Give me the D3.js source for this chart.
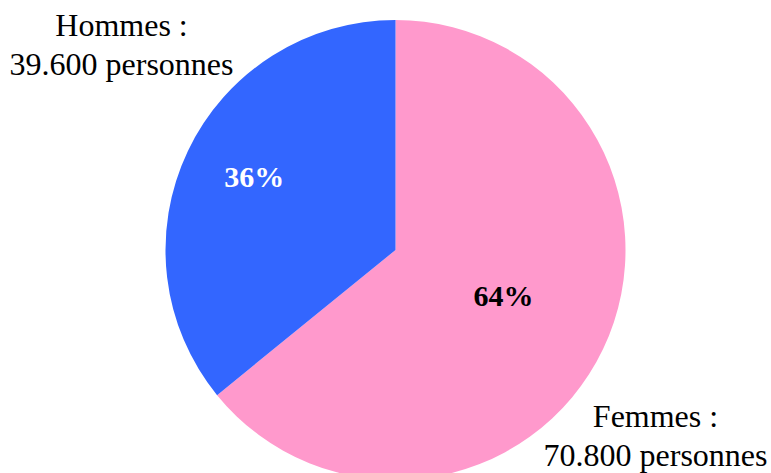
<!DOCTYPE html>
<html><head><meta charset="utf-8">
<script src="https://cdn.jsdelivr.net/npm/d3@7"></script>
<style>html,body{margin:0;padding:0;background:#fff;overflow:hidden}</style>
</head><body>
<svg id="chart" width="771" height="473"></svg>
<script>
const categories = ["Femmes", "Hommes"];
const values = [70800, 39600];
const outerLabels = [["Femmes :", "70.800 personnes"], ["Hommes :", "39.600 personnes"]];
const colors = ["#FF99CC", "#3366FF"];
const pctColors = ["#000000", "#ffffff"];

const svg = d3.select("#chart");
const cx = 395.5, cy = 250, r = 230;
const g = svg.append("g").attr("transform", `translate(${cx},${cy})`);
const pie = d3.pie().sort(null).value(d => d)(values);
const arc = d3.arc().innerRadius(0).outerRadius(r);
g.selectAll("path").data(pie).enter().append("path")
  .attr("d", arc).attr("fill", (d, i) => colors[i]);

const total = d3.sum(values);
const labelFrac = [0.52, 0.68];
g.selectAll("text.pct").data(pie).enter().append("text")
  .attr("class", "pct")
  .attr("transform", (d, i) => {
    const lr = r * labelFrac[i];
    const c = d3.arc().innerRadius(lr).outerRadius(lr).centroid(d);
    return `translate(${c[0]},${c[1]})`;
  })
  .attr("text-anchor", "middle").attr("dy", "0.14em")
  .style("font-family", "'Liberation Serif', 'Times New Roman', serif")
  .style("font-weight", "bold").style("font-size", "30px")
  .attr("fill", (d, i) => pctColors[i])
  .text(d => Math.round(d.value / total * 100) + "%");

// outer labels
const outerPos = [[655.5, 427], [121.5, 36]];
outerLabels.forEach((lines, i) => {
  const t = svg.append("text")
    .attr("text-anchor", "middle")
    .style("font-family", "'Liberation Serif', 'Times New Roman', serif")
    .style("font-size", "32px").attr("fill", "#000");
  lines.forEach((l, j) => {
    t.append("tspan").attr("x", outerPos[i][0]).attr("y", outerPos[i][1] + j * 39).text(l);
  });
});
</script>
</body></html>
